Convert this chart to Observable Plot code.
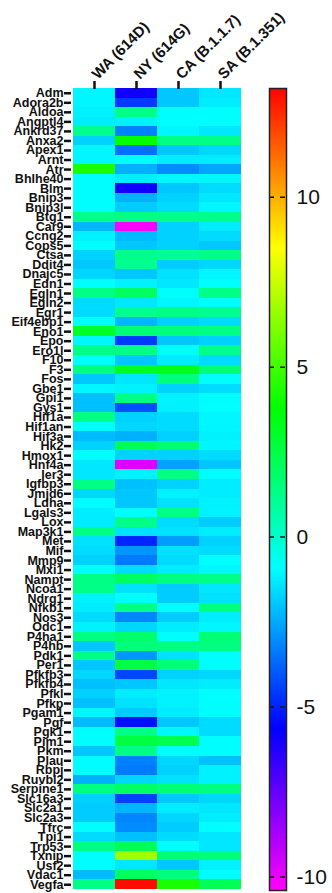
<!DOCTYPE html>
<html>
<head>
<meta charset="utf-8">
<script src="https://cdn.jsdelivr.net/npm/d3@7"></script>
<script src="https://cdn.jsdelivr.net/npm/@observablehq/plot@0.6"></script>
<style>
  html, body { margin: 0; padding: 0; background: #fff; }
  #wrap { position: relative; width: 332px; height: 893px; overflow: hidden; }
  #wrap > div, #wrap > svg { position: absolute; background: none !important; overflow: visible; }
</style>
</head>
<body>
<div id="wrap"></div>
<script>
const variants = ["WA (614D)", "NY (614G)", "CA (B.1.1.7)", "SA (B.1.351)"];
const genes = ["Adm","Adora2b","Aldoa","Angptl4","Ankrd37","Anxa2","Apex1","Arnt","Atr","Bhlhe40",
"Blm","Bnip3","Bnip3l","Btg1","Car9","Ccng2","Cops5","Ctsa","Ddit4","Dnajc5",
"Edn1","Egln1","Egln2","Egr1","Eif4ebp1","Eno1","Epo","Ero1l","F10","F3",
"Fos","Gbe1","Gpi1","Gys1","Hif1a","Hif1an","Hif3a","Hk2","Hmox1","Hnf4a",
"Ier3","Igfbp3","Jmjd6","Ldha","Lgals3","Lox","Map3k1","Met","Mif","Mmp9",
"Mxi1","Nampt","Ncoa1","Ndrg1","Nfkb1","Nos3","Odc1","P4ha1","P4hb","Pdk1",
"Per1","Pfkfb3","Pfkfb4","Pfkl","Pfkp","Pgam1","Pgf","Pgk1","Pim1","Pkm",
"Plau","Rbpj","Ruvbl2","Serpine1","Slc16a3","Slc2a1","Slc2a3","Tfrc","Tpi1","Trp53",
"Txnip","Usf2","Vdac1","Vegfa"];

const wa = [-1.1,-1.1,-1.2,-1.3,1.2,-1.8,-1.1,-1.1,4.2,-1.0,
-1.0,-1.0,-1.0,1.2,-2.3,-1.2,-1.0,-1.8,-2.0,-1.7,
-1.0,1.3,-1.6,-1.6,-1.0,3.0,-1.1,1.3,-0.9,1.4,
-2.0,-1.1,-2.1,-2.1,1.3,-0.9,-2.2,-1.8,-0.9,-1.4,
-1.4,1.3,-1.7,-1.0,-1.3,-1.3,1.3,-1.5,-1.6,-1.8,
-1.0,1.3,1.3,-1.2,-1.3,-1.6,-1.2,1.4,-2.0,1.3,
-2.0,-1.7,-2.1,-1.8,-2.1,-1.1,-2.2,-1.0,-1.0,-2.0,
-1.0,-1.0,-2.4,1.4,-1.8,-1.9,-1.9,-1.0,-1.6,1.4,
-1.0,-1.0,-2.2,1.3];
const ny = [-6.0,-4.6,1.3,-1.2,-3.3,3.8,-3.6,-0.9,-2.4,-1.3,
-6.0,-2.4,-1.9,1.3,-10.3,-2.2,-2.0,1.2,1.1,-2.0,
-1.2,2.0,-1.4,1.1,-2.3,1.6,-4.6,1.3,-2.0,3.2,
-1.4,-1.2,1.3,-4.2,-1.8,-1.7,-2.4,2.2,-1.8,-9.8,
-1.2,-2.1,-2.0,-2.0,-0.9,1.3,-1.5,-5.0,-2.9,-3.4,
-1.6,2.0,-1.5,-0.9,1.3,-3.2,-1.7,1.8,1.5,-2.9,
2.5,-4.4,-2.0,-1.3,-1.5,-1.9,-5.4,1.3,2.6,1.3,
-3.3,-3.4,-1.7,1.9,-4.5,-2.3,-3.2,-3.1,-2.1,2.2,
6.7,-1.4,2.0,13.0];
const ca = [-2.0,-2.0,-1.0,-1.0,-1.1,1.3,-2.0,-1.3,-3.1,-1.1,
-2.0,-1.8,-1.6,1.2,-1.8,-1.8,-1.8,1.0,-1.9,-1.5,
-1.4,-0.9,-1.1,1.3,-1.8,1.5,-2.0,-0.9,-1.3,3.3,
1.5,-1.8,-1.2,-1.2,-1.6,-1.6,-1.8,1.7,-1.8,-2.7,
1.3,-1.8,-1.2,-1.5,1.3,-1.6,-1.5,-2.8,-1.5,-1.6,
-1.3,1.4,-1.9,-1.9,-1.0,-1.9,-1.3,-0.9,1.3,-1.5,
1.5,-1.8,-1.4,-1.2,-1.2,-1.3,-2.0,-1.1,2.3,-1.0,
-1.7,-1.8,-1.5,1.6,-2.0,-1.3,-1.7,-1.9,-1.6,-0.9,
1.6,-2.0,1.5,4.2];
const sa = [-1.4,-1.3,-1.0,-1.0,-1.4,1.3,-1.7,-1.3,-2.6,-1.1,
-1.6,-1.4,-1.1,1.2,-1.3,-1.6,-2.0,1.3,-1.7,-1.1,
-1.0,1.3,-1.0,1.1,-1.6,1.3,-1.8,1.2,-1.6,1.6,
-1.0,-1.6,-1.0,-1.0,-1.1,-1.1,-1.2,-1.1,-1.6,-2.0,
-1.0,-1.3,-1.3,-1.2,-1.2,-1.9,-1.3,-1.8,-1.6,-1.0,
-1.1,1.3,-1.4,-1.5,1.4,-1.3,-1.1,1.6,1.4,-1.0,
-1.0,-1.7,-1.3,-1.0,-1.0,-1.0,-1.6,-1.6,-1.0,-1.0,
-2.1,-1.2,-1.2,1.4,-1.7,-1.4,-1.3,-1.0,-1.4,-1.4,
1.5,-1.2,-1.0,2.2];
const barTicks = [-10, -5, 0, 5, 10];
const colorDomain = [-10.4, 13.2];

const series = [wa, ny, ca, sa];
const data = genes.flatMap((g, i) => variants.map((v, j) => ({gene: g, variant: v, value: series[j][i]})));
const hueRamp = t => d3.hsl(300 * (1 - t), 1, 0.5).formatRgb();
const colorOpts = {type: "linear", domain: colorDomain, interpolate: hueRamp, clamp: true};

const heat = Plot.plot({
  width: 332, height: 893,
  marginLeft: 71, marginRight: 90, marginTop: 88, marginBottom: 4,
  style: {fontFamily: "'Liberation Sans', Arial, sans-serif", fontWeight: "bold", color: "#111", background: "none", overflow: "visible"},
  x: {domain: variants, padding: 0},
  y: {domain: genes, padding: 0},
  color: colorOpts,
  marks: [
    Plot.cell(data, {x: "variant", y: "gene", fill: "value", inset: 0, shapeRendering: "crispEdges"}),
    Plot.axisY({tickSize: 7, tickPadding: 1, strokeWidth: 2.5, fontSize: 12.5, label: null, fill: "#111"}),
    Plot.axisX({anchor: "top", tickSize: 8, strokeWidth: 2.5, tickFormat: () => "", label: null}),
    Plot.text(variants, {x: d => d, frameAnchor: "top", dy: -12, dx: 0, rotate: -45, textAnchor: "start", lineAnchor: "middle", fontSize: 15, fontWeight: "bold", fill: "#111"})
  ]
});

const steps = d3.range(colorDomain[0], colorDomain[1], 0.05);
const bar = Plot.plot({
  width: 70, height: 813,
  marginLeft: 7, marginRight: 46, marginTop: 8, marginBottom: 3,
  style: {fontFamily: "'Liberation Sans', Arial, sans-serif", color: "#111", background: "none", overflow: "visible"},
  x: {domain: [0, 1], axis: null},
  y: {domain: colorDomain},
  color: colorOpts,
  marks: [
    Plot.rect(steps, {x1: 0, x2: 1, y1: d => d, y2: d => Math.min(d + 0.08, colorDomain[1]), fill: d => d}),
    Plot.ruleY(barTicks, {x1: 0, x2: 1, stroke: "#111", strokeWidth: 1.5, strokeDasharray: "5,6"}),
    Plot.frame({stroke: "#222", strokeWidth: 1.5}),
    Plot.axisY(barTicks, {anchor: "right", tickSize: 0, tickPadding: 10, fontSize: 21, tickFormat: d => String(d), label: null, fill: "#111"})
  ]
});

const wrap = document.getElementById("wrap");
heat.style.left = "0px";
heat.style.top = "0px";
bar.style.left = "262px";
bar.style.top = "80px";
bar.style.background = "none";
heat.style.background = "none";
wrap.appendChild(bar);
wrap.appendChild(heat);
</script>
</body>
</html>
